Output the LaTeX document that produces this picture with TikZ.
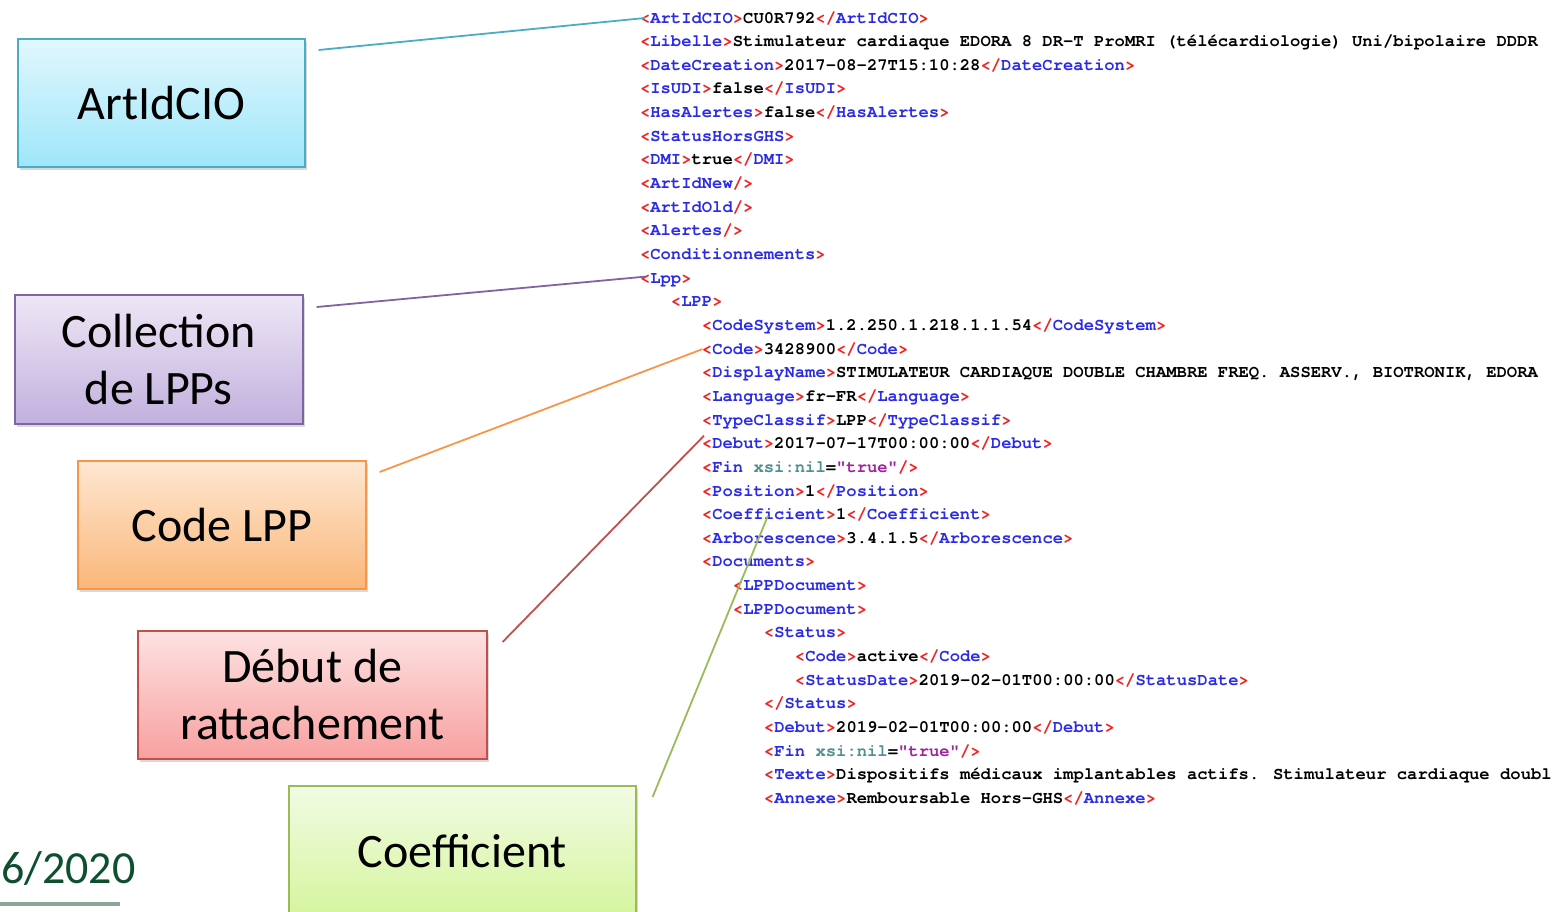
\documentclass[tikz,border=0pt]{standalone}
\usepackage{fontspec}
\setmainfont{Carlito}
\newfontfamily\xmlfont{TeX Gyre Cursor}[UprightFont=* Bold, Ligatures={NoCommon}]
\usetikzlibrary{calc,shadows}
\definecolor{xred}{HTML}{F02424}
\definecolor{xblue}{HTML}{2B2BE6}
\definecolor{xattr}{HTML}{4F8F8F}
\definecolor{xval}{HTML}{A1229C}
\definecolor{cyanB}{HTML}{4BACC6}\definecolor{cyanT}{HTML}{E2F7FD}\definecolor{cyanD}{HTML}{9EE6FA}
\definecolor{purpB}{HTML}{8064A2}\definecolor{purpT}{HTML}{EDE7F5}\definecolor{purpD}{HTML}{C2B0DE}
\definecolor{oranB}{HTML}{F79646}\definecolor{oranT}{HTML}{FEE7D2}\definecolor{oranD}{HTML}{FAB77A}
\definecolor{redB}{HTML}{C0504D}\definecolor{redT}{HTML}{FDE2E2}\definecolor{redD}{HTML}{F8A0A0}
\definecolor{grnB}{HTML}{9BBB59}\definecolor{grnT}{HTML}{F2FBE4}\definecolor{grnD}{HTML}{D5F59E}
\definecolor{footgreen}{HTML}{0D4F2F}
\definecolor{footbar}{HTML}{8AA898}
\newcommand\XOpen[1]{\textcolor{xred}{<}\textcolor{xblue}{#1}\textcolor{xred}{>}}
\newcommand\XClose[1]{\textcolor{xred}{</}\textcolor{xblue}{#1}\textcolor{xred}{>}}
\newcommand\XEmpty[1]{\textcolor{xred}{<}\textcolor{xblue}{#1}\textcolor{xred}{/>}}
\newcommand\xmlline[4]{\node[xmltext] (#1) at ({640+#2*10.33},{23+(#3-1)*23.65}) {#4};}
\tikzset{
  xmltext/.style={anchor=base west, inner sep=0pt, outer sep=0pt,
    font=\xmlfont\fontsize{17.2}{20}\selectfont, text=black},
  callout/.style={rectangle, anchor=north west, inner sep=0pt, line width=1.6pt,
    font=\fontsize{48}{57}\selectfont, align=center, text=black,
    drop shadow={shadow xshift=2pt, shadow yshift=-3pt, opacity=0.3}},
  link/.style={line width=1.8pt}
}
\begin{document}
\begin{tikzpicture}[x=1pt,y=-1pt]
\useasboundingbox (0,0) rectangle (1556,911);
\clip (0,0) rectangle (1556,911);
% XML listing
\xmlline{l1}{0}{1}{\XOpen{ArtIdCIO}CU0R792\XClose{ArtIdCIO}}
\xmlline{l2}{0}{2}{\XOpen{Libelle}Stimulateur cardiaque EDORA 8 DR-T ProMRI (télécardiologie) Uni/bipolaire DDDR}
\xmlline{l3}{0}{3}{\XOpen{DateCreation}2017-08-27T15:10:28\XClose{DateCreation}}
\xmlline{l4}{0}{4}{\XOpen{IsUDI}false\XClose{IsUDI}}
\xmlline{l5}{0}{5}{\XOpen{HasAlertes}false\XClose{HasAlertes}}
\xmlline{l6}{0}{6}{\XOpen{StatusHorsGHS}}
\xmlline{l7}{0}{7}{\XOpen{DMI}true\XClose{DMI}}
\xmlline{l8}{0}{8}{\XEmpty{ArtIdNew}}
\xmlline{l9}{0}{9}{\XEmpty{ArtIdOld}}
\xmlline{l10}{0}{10}{\XEmpty{Alertes}}
\xmlline{l11}{0}{11}{\XOpen{Conditionnements}}
\xmlline{l12}{0}{12}{\XOpen{Lpp}}
\xmlline{l13}{3}{13}{\XOpen{LPP}}
\xmlline{l14}{6}{14}{\XOpen{CodeSystem}1.2.250.1.218.1.1.54\XClose{CodeSystem}}
\xmlline{l15}{6}{15}{\XOpen{Code}3428900\XClose{Code}}
\xmlline{l16}{6}{16}{\XOpen{DisplayName}STIMULATEUR CARDIAQUE DOUBLE CHAMBRE FREQ. ASSERV., BIOTRONIK, EDORA}
\xmlline{l17}{6}{17}{\XOpen{Language}fr-FR\XClose{Language}}
\xmlline{l18}{6}{18}{\XOpen{TypeClassif}LPP\XClose{TypeClassif}}
\xmlline{l19}{6}{19}{\XOpen{Debut}2017-07-17T00:00:00\XClose{Debut}}
\xmlline{l20}{6}{20}{\textcolor{xred}{<}\textcolor{xblue}{Fin} \textcolor{xattr}{xsi:nil}=\textcolor{xval}{"true"}\textcolor{xred}{/>}}
\xmlline{l21}{6}{21}{\XOpen{Position}1\XClose{Position}}
\xmlline{l22}{6}{22}{\XOpen{Coefficient}1\XClose{Coefficient}}
\xmlline{l23}{6}{23}{\XOpen{Arborescence}3.4.1.5\XClose{Arborescence}}
\xmlline{l24}{6}{24}{\XOpen{Documents}}
\xmlline{l25}{9}{25}{\XOpen{LPPDocument}}
\xmlline{l26}{9}{26}{\XOpen{LPPDocument}}
\xmlline{l27}{12}{27}{\XOpen{Status}}
\xmlline{l28}{15}{28}{\XOpen{Code}active\XClose{Code}}
\xmlline{l29}{15}{29}{\XOpen{StatusDate}2019-02-01T00:00:00\XClose{StatusDate}}
\xmlline{l30}{12}{30}{\XClose{Status}}
\xmlline{l31}{12}{31}{\XOpen{Debut}2019-02-01T00:00:00\XClose{Debut}}
\xmlline{l32}{12}{32}{\textcolor{xred}{<}\textcolor{xblue}{Fin} \textcolor{xattr}{xsi:nil}=\textcolor{xval}{"true"}\textcolor{xred}{/>}}
\xmlline{l33}{12}{33}{\XOpen{Texte}Dispositifs médicaux implantables actifs. Stimulateur cardiaque doubl}
\xmlline{l34}{12}{34}{\XOpen{Annexe}Remboursable Hors-GHS\XClose{Annexe}}
% callout boxes
\node[callout, draw=cyanB, top color=cyanT, bottom color=cyanD,
      minimum width=287pt, minimum height=128pt] (artid) at (17,38) {ArtIdCIO};
\node[callout, draw=purpB, top color=purpT, bottom color=purpD,
      minimum width=288pt, minimum height=129pt] (coll) at (14,294) {Collection\\de LPPs};
\node[callout, draw=oranB, top color=oranT, bottom color=oranD,
      minimum width=288pt, minimum height=128pt] (code) at (77,460) {Code LPP};
\node[callout, draw=redB, top color=redT, bottom color=redD,
      minimum width=349pt, minimum height=128pt] (debut) at (137,630) {Début de\\rattachement};
\node[callout, draw=grnB, top color=grnT, bottom color=grnD,
      minimum width=347pt, minimum height=130pt] (coef) at (288,785) {Coefficient};
% connectors
\draw[link, draw=cyanB] ($(artid.north east)+(13,12)$) -- ($(l1.base west)+(5,-5)$);
\draw[link, draw=purpB] ($(coll.north east)+(13,13)$) -- ($(l12.base west)+(5,-6.5)$);
\draw[link, draw=oranB] ($(code.north east)+(13,12)$) -- ($(l15.base west)+(0.5,-5)$);
\draw[link, draw=redB] ($(debut.north east)+(15,12)$) -- ($(l19.base west)+(2,-13)$);
\draw[link, draw=grnB] ($(coef.north east)+(16,12)$) -- ($(l22.base west)+(66,-4)$);
% footer
\node[anchor=base west, inner sep=0pt, font=\fontsize{46}{46}\selectfont, text=footgreen] (date) at (1,883) {6/2020};
\fill[footbar] (0,902) rectangle (120,906);
\end{tikzpicture}
\end{document}
